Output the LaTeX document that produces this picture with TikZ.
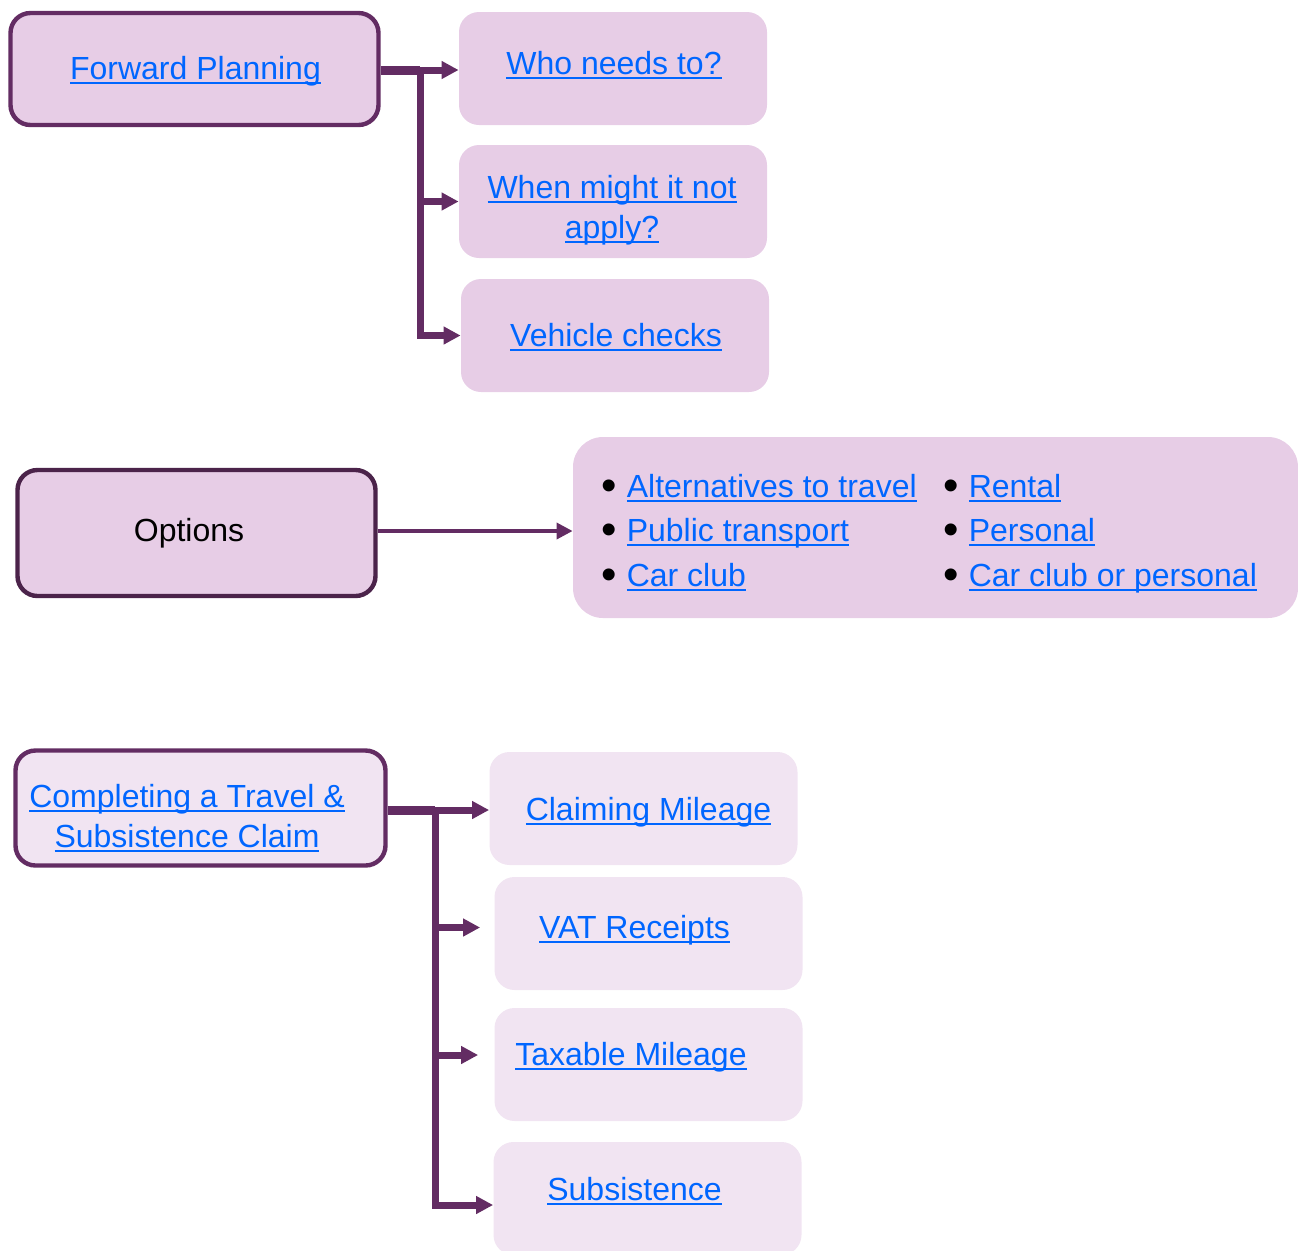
\documentclass[tikz,border=0pt]{standalone}
\usepackage{fontspec}
\setmainfont{Liberation Sans}
\usetikzlibrary{arrows.meta}
\definecolor{plum}{HTML}{632C63}
\definecolor{darkplum}{HTML}{4B234A}
\definecolor{lilac}{HTML}{E7CDE6}
\definecolor{paleplum}{HTML}{F1E4F2}
\definecolor{linkblue}{HTML}{0066FF}
\newsavebox{\lnkbox}
\newcommand{\lnk}[1]{\textcolor{linkblue}{\sbox{\lnkbox}{#1}\rlap{\rule[-2.5pt]{\wd\lnkbox}{1pt}}\usebox{\lnkbox}}}
\newcommand{\blt}{\raisebox{-1.5pt}{\fontsize{22pt}{20pt}\selectfont\textbullet}\hspace{5pt}}

\begin{document}
\begin{tikzpicture}[x=0.5pt, y=-0.5pt,
    font=\fontsize{16pt}{20pt}\selectfont,
    lead/.style={draw=plum, line width=2.2pt, fill=lilac, rounded corners=10pt,
      minimum width=184pt, minimum height=56pt},
    topic/.style={fill=lilac, rounded corners=10pt, minimum width=154pt,
      minimum height=56.5pt},
    paletopic/.style={topic, fill=paleplum},
    caption/.style={inner sep=0pt, anchor=base, align=center},
    item/.style={inner sep=0pt, anchor=base west},
    link/.style={draw=plum, line width=3.5pt, -{Triangle[length=8.5pt,width=8.5pt]}},
    stub/.style={draw=plum, line width=4.5pt}]

    \useasboundingbox (0,0) rectangle (1298,1250);

    % forward planning
    \node[lead] (fp) at (194.5,69) {};
    \node[topic] (who) at (613,68.5) {};
    \node[topic] (when) at (613,201.5) {};
    \node[topic] (veh) at (615,335.5) {};
    \node[caption] (fptxt) at (195.5,79) {\lnk{Forward Planning}};
    \node[caption] (whotxt) at (614,74) {\lnk{Who needs to?}};
    \node[caption] (whentxt) at (612,238) {\lnk{When might it not}\\\lnk{apply?}};
    \node[caption] (vehtxt) at (616,346) {\lnk{Vehicle checks}};
    \coordinate (fpj) at (420,70);

    \draw[stub] (fp.east |- fpj) -- (fpj);
    \draw[link] (fpj) -- (who.west |- fpj);
    \draw[link] (fpj) |- (when.west);
    \draw[link] (fpj) |- (veh.west);

    % options
    \node[lead, draw=darkplum, minimum width=179pt, minimum height=63pt] (opt) at (196.5,533) {};
    \node[caption] (opttxt) at (189,541) {Options};
    \node[topic, minimum width=362.5pt, minimum height=90.5pt, rounded corners=15pt] (optlist) at (935.5,527.5) {};
    \node[item] (alt) at (601,497) {\blt\lnk{Alternatives to travel}};
    \node[item] (pub) at (601,541) {\blt\lnk{Public transport}};
    \node[item] (club) at (601,586) {\blt\lnk{Car club}};
    \node[item] (rent) at (943,497) {\blt\lnk{Rental}};
    \node[item] (pers) at (943,541) {\blt\lnk{Personal}};
    \node[item] (clubpers) at (943,586) {\blt\lnk{Car club or personal}};

    \draw[link, line width=1.75pt, -{Triangle[length=8pt,width=8pt]}] ([yshift=1pt]opt.east) -- ([yshift=1pt]opt.east -| optlist.west);

    % travel and subsistence claim
    \node[lead, fill=paleplum, minimum width=185pt, minimum height=57.5pt] (tsc) at (200.5,808) {};
    \node[paletopic] (claim) at (643.5,808.5) {};
    \node[paletopic] (vat) at (648.5,933.5) {};
    \node[paletopic] (tax) at (648.5,1064.5) {};
    \node[paletopic] (subs) at (647.5,1198.5) {};
    \node[caption] (tsctxt) at (187,847) {\lnk{Completing a Travel \&}\\\lnk{Subsistence Claim}};
    \node[caption] (claimtxt) at (648.5,820) {\lnk{Claiming Mileage}};
    \node[caption] (vattxt) at (634.5,938) {\lnk{VAT Receipts}};
    \node[caption] (taxtxt) at (631,1065) {\lnk{Taxable Mileage}};
    \node[caption] (substxt) at (634.5,1200) {\lnk{Subsistence}};
    \coordinate (tscj) at (435,810);

    \draw[stub] (tsc.east |- tscj) -- (tscj);
    \draw[link] (tscj) -- (claim.west |- tscj);
    \draw[link, shorten >=7pt] (tscj) |- ([yshift=3pt]vat.west);
    \draw[link, shorten >=8pt] (tscj) |- ([yshift=4.75pt]tax.west);
    \draw[link] (tscj) |- ([yshift=-3.25pt]subs.west);

\end{tikzpicture}
\end{document}
